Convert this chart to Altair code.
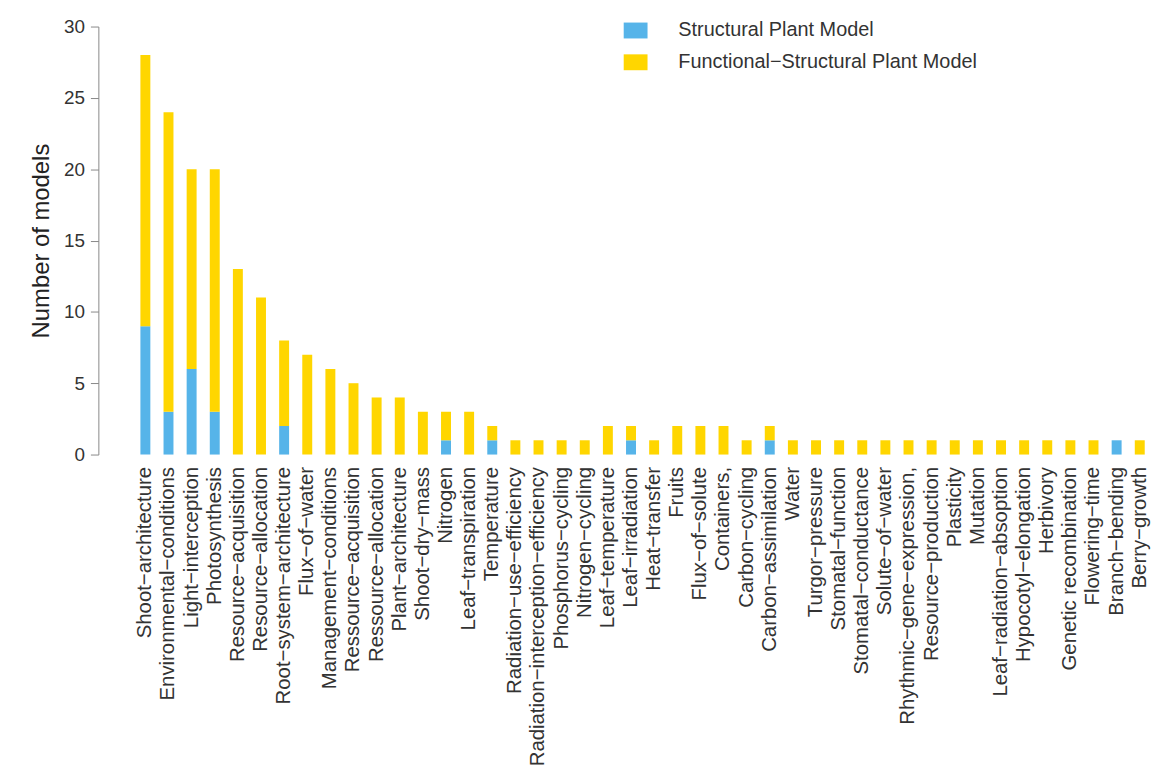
import altair as alt
import pandas as pd

categories = [
    "Shoot−architecture", "Environmental−conditions", "Light−interception", "Photosynthesis",
    "Resource−acquisition", "Resource−allocation", "Root−system−architecture", "Flux−of−water",
    "Management−conditions", "Ressource−acquisition", "Ressource−allocation", "Plant−architecture",
    "Shoot−dry−mass", "Nitrogen", "Leaf−transpiration", "Temperature",
    "Radiation−use−efficiency", "Radiation−interception−efficiency", "Phosphorus−cycling", "Nitrogen−cycling",
    "Leaf−temperature", "Leaf−irradiation", "Heat−transfer", "Fruits",
    "Flux−of−solute", "Containers,", "Carbon−cycling", "Carbon−assimilation",
    "Water", "Turgor−pressure", "Stomatal−function", "Stomatal−conductance",
    "Solute−of−water", "Rhythmic−gene−expression,", "Resource−production", "Plasticity",
    "Mutation", "Leaf−radiation−absoption", "Hypocotyl−elongation", "Herbivory",
    "Genetic recombination", "Flowering−time", "Branch−bending", "Berry−growth",
]
structural = [9, 3, 6, 3, 0, 0, 2, 0, 0, 0, 0, 0, 0, 1, 0, 1, 0, 0, 0, 0, 0, 1,
              0, 0, 0, 0, 0, 1, 0, 0, 0, 0, 0, 0, 0, 0, 0, 0, 0, 0, 0, 0, 1, 0]
functional = [19, 21, 14, 17, 13, 11, 6, 7, 6, 5, 4, 4, 3, 2, 3, 1, 1, 1, 1, 1, 2, 1,
              1, 2, 2, 2, 1, 1, 1, 1, 1, 1, 1, 1, 1, 1, 1, 1, 1, 1, 1, 1, 0, 1]
series = ["Structural Plant Model", "Functional−Structural Plant Model"]
colors = ["#56B4E9", "#FFD600"]
y_ticks = [0, 5, 10, 15, 20, 25, 30]

rows = []
for c, s, f in zip(categories, structural, functional):
    rows.append({"cat": c, "model": series[0], "n": s, "ord": 0})
    rows.append({"cat": c, "model": series[1], "n": f, "ord": 1})
df = pd.DataFrame(rows)

chart = alt.Chart(df).mark_bar().encode(
    x=alt.X("cat:N", sort=categories, title=None,
            scale=alt.Scale(paddingInner=0.57, paddingOuter=0.1),
            axis=alt.Axis(labelAngle=270, domain=False, ticks=False, labelPadding=12,
                          labelFontSize=20.5, labelColor="#333333", labelFont="Liberation Sans",
                          labelLimit=0)),
    y=alt.Y("n:Q", stack="zero", title="Number of models",
            scale=alt.Scale(domain=[0, 30], nice=False),
            axis=alt.Axis(values=y_ticks, grid=False, offset=40, domainColor="#888888",
                          tickColor="#888888", tickSize=8, labelPadding=6, labelFontSize=19,
                          labelColor="#333333", labelFont="Liberation Sans",
                          titleFont="Liberation Sans", titleFontSize=24, titleFontWeight="normal",
                          titleColor="#222222", titlePadding=10)),
    color=alt.Color("model:N", scale=alt.Scale(domain=series, range=colors),
                    legend=alt.Legend(title=None, orient="none", legendX=489, legendY=-8,
                                      symbolType="M-1,-0.667H1V0.667H-1Z", symbolSize=576,
                                      symbolStrokeWidth=0, labelFontSize=20, labelFont="Liberation Sans",
                                      labelColor="#333333", labelOffset=31, rowPadding=10,
                                      labelLimit=0, padding=0)),
    order=alt.Order("ord:Q", sort="ascending"),
).properties(
    width=1016, height=431,
    autosize=alt.AutoSizeParams(type="none"),
    padding={"left": 131, "top": 16, "right": 6, "bottom": 316},
).configure_view(strokeWidth=0)

chart.save("out.html", embed_options={"renderer": "svg", "actions": False})
